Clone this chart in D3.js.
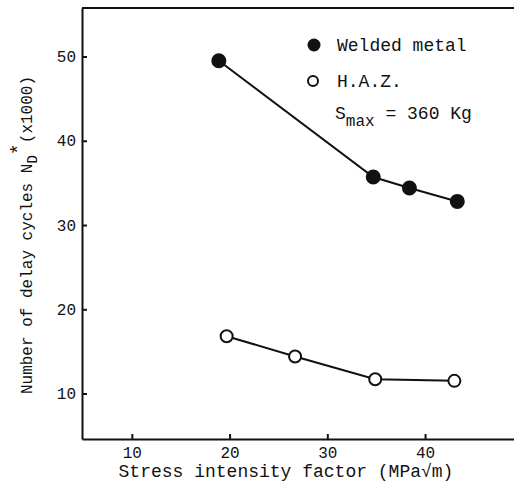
<!DOCTYPE html>
<html>
<head>
<meta charset="utf-8">
<script src="https://cdn.jsdelivr.net/npm/d3@7"></script>
<style>
  body { margin: 0; background: #fff; }
  svg text { font-family: "Liberation Mono", "DejaVu Sans Mono", monospace; fill: #111; }
  .axis path, .axis line { stroke: #111; stroke-width: 2; }
  .axis text { font-size: 16px; }
</style>
</head>
<body>
<svg id="chart" width="514" height="484"></svg>
<script>
// data
var weldedK = [18.9, 34.7, 38.4, 43.3],
    weldedN = [49.5, 35.7, 34.4, 32.8],
    hazK = [19.7, 26.7, 34.9, 43.0],
    hazN = [16.8, 14.4, 11.7, 11.5],
    xTicks = [10, 20, 30, 40],
    yTicks = [10, 20, 30, 40, 50];

var svg = d3.select("#chart"),
    plotLeft = 82, plotRight = 514, plotTop = 8, plotBottom = 439;

var x = d3.scaleLinear().domain([4.9, 49.1]).range([plotLeft, plotRight]),
    y = d3.scaleLinear().domain([4.6, 55.76]).range([plotBottom, plotTop]);

svg.append("g")
    .attr("class", "axis")
    .attr("transform", "translate(0," + plotBottom + ")")
    .call(d3.axisBottom(x).tickValues(xTicks).tickSizeInner(-5).tickSizeOuter(0).tickPadding(8));

svg.append("g")
    .attr("class", "axis")
    .attr("transform", "translate(" + plotLeft + ",0)")
    .call(d3.axisLeft(y).tickValues(yTicks).tickSizeInner(-5).tickSizeOuter(0).tickPadding(6));

// top frame line
svg.append("line")
    .attr("x1", plotLeft).attr("x2", plotRight)
    .attr("y1", plotTop).attr("y2", plotTop)
    .attr("stroke", "#111").attr("stroke-width", 2);

var line = d3.line()
    .x(function(d) { return x(d[0]); })
    .y(function(d) { return y(d[1]); });

function series(ks, ns, filled) {
    var pts = d3.zip(ks, ns);
    svg.append("path")
        .datum(pts)
        .attr("d", line)
        .attr("fill", "none")
        .attr("stroke", "#111")
        .attr("stroke-width", 2);
    svg.selectAll(null)
        .data(pts)
        .enter().append("circle")
            .attr("cx", function(d) { return x(d[0]); })
            .attr("cy", function(d) { return y(d[1]); })
            .attr("r", filled ? 6.5 : 6)
            .attr("fill", filled ? "#111" : "#fff")
            .attr("stroke", "#111")
            .attr("stroke-width", 2);
}
series(weldedK, weldedN, true);
series(hazK, hazN, false);

// legend
var leg = svg.append("g");
leg.append("circle").attr("cx", 314).attr("cy", 45).attr("r", 6.5).attr("fill", "#111");
leg.append("text").attr("x", 337).attr("y", 51).attr("font-size", 18).text("Welded metal");
leg.append("circle").attr("cx", 313).attr("cy", 81).attr("r", 5).attr("fill", "#fff")
    .attr("stroke", "#111").attr("stroke-width", 2);
leg.append("text").attr("x", 337).attr("y", 87).attr("font-size", 18).text("H.A.Z.");
var smax = leg.append("text").attr("x", 335).attr("y", 119).attr("font-size", 18);
smax.append("tspan").text("S");
smax.append("tspan").attr("dy", 7).attr("font-size", 16).text("max");
smax.append("tspan").attr("dy", -7).text(" = 360 Kg");

// axis titles
svg.append("text")
    .attr("x", 286).attr("y", 477)
    .attr("text-anchor", "middle")
    .attr("font-size", 18)
    .text("Stress intensity factor (MPa\u221Am)");

var yl = svg.append("text")
    .attr("transform", "translate(32,235) rotate(-90)")
    .attr("text-anchor", "middle")
    .attr("font-size", 16);
yl.append("tspan").text("Number of delay cycles N");
yl.append("tspan").attr("dy", 5).attr("font-size", 14).text("D");
yl.append("tspan").attr("dy", -12).attr("font-size", 20).text("*");
yl.append("tspan").attr("dy", 7).text("(x1000)");
</script>
</body>
</html>
